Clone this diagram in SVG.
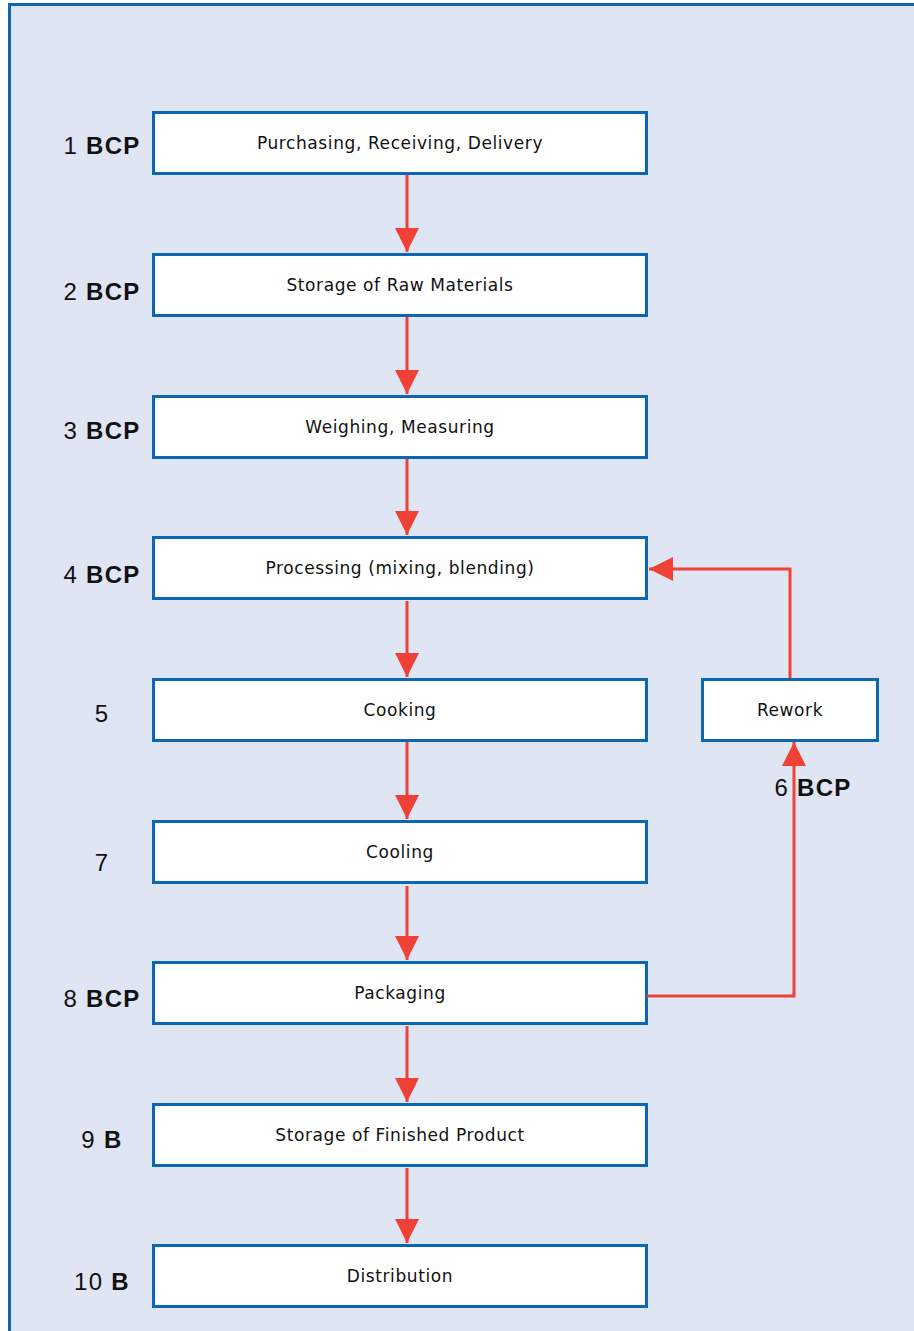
<svg xmlns="http://www.w3.org/2000/svg" width="914" height="1331" viewBox="0 0 914 1331">
  <style>
    .box { fill: #ffffff; stroke: #0b66b3; stroke-width: 3; }
    .txt { font-family: "DejaVu Sans", sans-serif; font-size: 17px; letter-spacing: 0.6px; fill: #111111; text-anchor: middle; }
    .lbl { font-family: "Liberation Sans", Arial, sans-serif; font-size: 24px; letter-spacing: 1.3px; fill: #111111; text-anchor: middle; }
    .lbl tspan.b { font-weight: bold; }
    .flow { fill: none; stroke: #ef4136; stroke-width: 3; }
  </style>
  <defs>
    <marker id="arrow" viewBox="0 0 10 10" refX="10" refY="5" markerUnits="userSpaceOnUse" markerWidth="24" markerHeight="30" orient="auto">
      <path d="M0,0 L10,5 L0,10 Z" fill="#ef4136"/>
    </marker>
  </defs>

  <!-- page panel -->
  <rect x="9.5" y="4.5" width="920" height="1340" fill="#dfe5f3" stroke="#0b66b3" stroke-width="3"/>

  <!-- process steps -->
  <g id="step1">
    <rect class="box" x="153.5" y="112.5" width="493" height="61"/>
    <text class="txt" x="400" y="149">Purchasing, Receiving, Delivery</text>
    <text class="lbl" x="102" y="154">1 <tspan class="b">BCP</tspan></text>
  </g>
  <g id="step2">
    <rect class="box" x="153.5" y="254.5" width="493" height="61"/>
    <text class="txt" x="400" y="291">Storage of Raw Materials</text>
    <text class="lbl" x="102" y="300">2 <tspan class="b">BCP</tspan></text>
  </g>
  <g id="step3">
    <rect class="box" x="153.5" y="396.5" width="493" height="61"/>
    <text class="txt" x="400" y="433">Weighing, Measuring</text>
    <text class="lbl" x="102" y="439">3 <tspan class="b">BCP</tspan></text>
  </g>
  <g id="step4">
    <rect class="box" x="153.5" y="537.5" width="493" height="61"/>
    <text class="txt" x="400" y="574">Processing (mixing, blending)</text>
    <text class="lbl" x="102" y="583">4 <tspan class="b">BCP</tspan></text>
  </g>
  <g id="step5">
    <rect class="box" x="153.5" y="679.5" width="493" height="61"/>
    <text class="txt" x="400" y="716">Cooking</text>
    <text class="lbl" x="102" y="722">5</text>
  </g>
  <g id="step7">
    <rect class="box" x="153.5" y="821.5" width="493" height="61"/>
    <text class="txt" x="400" y="858">Cooling</text>
    <text class="lbl" x="102" y="871">7</text>
  </g>
  <g id="step8">
    <rect class="box" x="153.5" y="962.5" width="493" height="61"/>
    <text class="txt" x="400" y="999">Packaging</text>
    <text class="lbl" x="102" y="1007">8 <tspan class="b">BCP</tspan></text>
  </g>
  <g id="step9">
    <rect class="box" x="153.5" y="1104.5" width="493" height="61"/>
    <text class="txt" x="400" y="1141">Storage of Finished Product</text>
    <text class="lbl" x="102" y="1148">9 <tspan class="b">B</tspan></text>
  </g>
  <g id="step10">
    <rect class="box" x="153.5" y="1245.5" width="493" height="61"/>
    <text class="txt" x="400" y="1282">Distribution</text>
    <text class="lbl" x="102" y="1290">10 <tspan class="b">B</tspan></text>
  </g>
  <g id="rework">
    <rect class="box" x="702.5" y="679.5" width="175" height="61"/>
    <text class="txt" x="790" y="716">Rework</text>
    <text class="lbl" x="813" y="796">6 <tspan class="b">BCP</tspan></text>
  </g>

  <!-- connectors -->
  <g id="connectors">
    <path class="flow" d="M407,175 V252" marker-end="url(#arrow)"/>
    <path class="flow" d="M407,317 V394" marker-end="url(#arrow)"/>
    <path class="flow" d="M407,459 V535" marker-end="url(#arrow)"/>
    <path class="flow" d="M407,601 V677" marker-end="url(#arrow)"/>
    <path class="flow" d="M407,742 V819" marker-end="url(#arrow)"/>
    <path class="flow" d="M407,886 V960" marker-end="url(#arrow)"/>
    <path class="flow" d="M407,1026 V1102" marker-end="url(#arrow)"/>
    <path class="flow" d="M407,1168 V1243" marker-end="url(#arrow)"/>
    <path class="flow" d="M790,678 V569 H649" marker-end="url(#arrow)"/>
    <path class="flow" d="M647,996 H794 V742" marker-end="url(#arrow)"/>
  </g>
</svg>
